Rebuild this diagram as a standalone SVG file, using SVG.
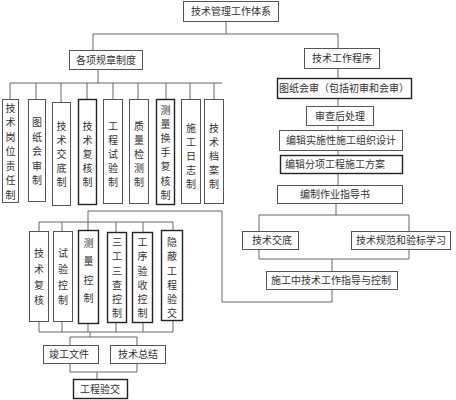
<svg xmlns="http://www.w3.org/2000/svg" width="456" height="400" viewBox="0 0 456 400">
<style>
.b{fill:#fff;stroke:#555;stroke-width:1}
.bt{fill:#fff;stroke:#222;stroke-width:1.4}
.t{font-family:"Noto Sans CJK SC","Noto Sans",sans-serif;font-size:10px;fill:#333;text-anchor:middle}
.c{fill:none;stroke:#666;stroke-width:1}
</style>
<rect width="456" height="400" fill="#fff"/>
<g id="connectors">
<path class="c" d="M226,21V34M93,34H338M93,34V50M338,34V48"/>
<path class="c" d="M98,69V83M10,83H222M10,83V99M36,83V99M61,83V102M87,83V99M113,83V99M138,83V99M166,83V99M190,83V99M214,83V99"/>
<path class="c" d="M338,68V78M338,98V106M338,125V130M338,150V155M338,173V185"/>
<path class="c" d="M336,203V215M259,215H409M259,215V231M409,215V231M259,249V259M409,249V259M259,259H409M332,259V271"/>
<path class="c" d="M332,289V302H222V211H88V230M39,222H173M39,222V231M62,222V231M116,222V232M143,222V232M173,222V230"/>
<path class="c" d="M39,321V332M62,321V332M88,323V332M116,322V332M143,322V332M173,320V332M39,332H173M90,332V337M70,337H137M70,337V345M137,337V345M70,363V372M137,363V372M70,372H137M97,372V379"/>
</g>
<g id="n-top"><rect class="b" x="183.5" y="1.5" width="95" height="20"/><text class="t" x="231" y="15">技术管理工作体系</text></g>
<g id="n-rules"><rect class="b" x="69.5" y="50.5" width="73" height="19"/><text class="t" x="106" y="64">各项规章制度</text></g>
<g id="n-proc"><rect class="b" x="304.5" y="48.5" width="75" height="20"/><text class="t" x="342" y="62">技术工作程序</text></g>
<g id="n-r1"><rect class="b" x="2.5" y="99.5" width="16" height="103"/><text class="t"><tspan x="10.5" y="111.5">技</tspan><tspan x="10.5" y="126">术</tspan><tspan x="10.5" y="140.5">岗</tspan><tspan x="10.5" y="155">位</tspan><tspan x="10.5" y="169.5">责</tspan><tspan x="10.5" y="184">任</tspan><tspan x="10.5" y="198.5">制</tspan></text></g>
<g id="n-r2"><rect class="b" x="28.5" y="99.5" width="17" height="102"/><text class="t"><tspan x="37" y="126">图</tspan><tspan x="37" y="140.5">纸</tspan><tspan x="37" y="155">会</tspan><tspan x="37" y="169.5">审</tspan><tspan x="37" y="184">制</tspan></text></g>
<g id="n-r3"><rect class="b" x="52.5" y="102.5" width="18" height="103"/><text class="t"><tspan x="61.5" y="130">技</tspan><tspan x="61.5" y="144">术</tspan><tspan x="61.5" y="158">交</tspan><tspan x="61.5" y="172">底</tspan><tspan x="61.5" y="186">制</tspan></text></g>
<g id="n-r4"><rect class="bt" x="78.5" y="99.5" width="18" height="105"/><text class="t"><tspan x="87.5" y="130">技</tspan><tspan x="87.5" y="144">术</tspan><tspan x="87.5" y="158">复</tspan><tspan x="87.5" y="172">核</tspan><tspan x="87.5" y="186">制</tspan></text></g>
<g id="n-r5"><rect class="b" x="103.5" y="99.5" width="19" height="104"/><text class="t"><tspan x="113" y="130">工</tspan><tspan x="113" y="144">程</tspan><tspan x="113" y="158">试</tspan><tspan x="113" y="172">验</tspan><tspan x="113" y="186">制</tspan></text></g>
<g id="n-r6"><rect class="b" x="129.5" y="99.5" width="19" height="104"/><text class="t"><tspan x="139" y="130">质</tspan><tspan x="139" y="144">量</tspan><tspan x="139" y="158">检</tspan><tspan x="139" y="172">测</tspan><tspan x="139" y="186">制</tspan></text></g>
<g id="n-r7"><rect class="bt" x="156.5" y="99.5" width="18" height="105"/><text class="t"><tspan x="165.5" y="113.5">测</tspan><tspan x="165.5" y="127.7">量</tspan><tspan x="165.5" y="141.9">换</tspan><tspan x="165.5" y="156.1">手</tspan><tspan x="165.5" y="170.3">复</tspan><tspan x="165.5" y="184.5">核</tspan><tspan x="165.5" y="198.7">制</tspan></text></g>
<g id="n-r8"><rect class="b" x="181.5" y="99.5" width="19" height="104"/><text class="t"><tspan x="191" y="131.5">施</tspan><tspan x="191" y="145.5">工</tspan><tspan x="191" y="159.5">日</tspan><tspan x="191" y="173.5">志</tspan><tspan x="191" y="187.5">制</tspan></text></g>
<g id="n-r9"><rect class="b" x="204.5" y="99.5" width="19" height="104"/><text class="t"><tspan x="214" y="131.5">技</tspan><tspan x="214" y="145.5">术</tspan><tspan x="214" y="159.5">档</tspan><tspan x="214" y="173.5">案</tspan><tspan x="214" y="187.5">制</tspan></text></g>
<g id="n-p1"><rect class="bt" x="277.5" y="78.5" width="134" height="20"/><text class="t" x="344" y="92">图纸会审（包括初审和会审）</text></g>
<g id="n-p2"><rect class="b" x="306.5" y="106.5" width="67" height="19"/><text class="t" x="340" y="120">审查后处理</text></g>
<g id="n-p3"><rect class="b" x="279.5" y="130.5" width="123" height="20"/><text class="t" x="341" y="144">编辑实施性施工组织设计</text></g>
<g id="n-p4"><rect class="bt" x="280.5" y="155.5" width="122" height="18"/><text class="t" x="335" y="168">编辑分项工程施工方案</text></g>
<g id="n-p5"><rect class="b" x="277.5" y="185.5" width="125" height="18"/><text class="t" x="335" y="198">编制作业指导书</text></g>
<g id="n-p6"><rect class="b" x="242.5" y="231.5" width="56" height="18"/><text class="t" x="272" y="244">技术交底</text></g>
<g id="n-p7"><rect class="b" x="351.5" y="231.5" width="99" height="18"/><text class="t" x="401" y="244">技术规范和验标学习</text></g>
<g id="n-p8"><rect class="b" x="266.5" y="271.5" width="131" height="18"/><text class="t" x="331" y="284">施工中技术工作指导与控制</text></g>
<g id="n-c1"><rect class="b" x="29.5" y="231.5" width="19" height="90"/><text class="t"><tspan x="39" y="257">技</tspan><tspan x="39" y="273">术</tspan><tspan x="39" y="288.5">复</tspan><tspan x="39" y="304">核</tspan></text></g>
<g id="n-c2"><rect class="b" x="53.5" y="231.5" width="19" height="90"/><text class="t"><tspan x="63" y="257">试</tspan><tspan x="63" y="273">验</tspan><tspan x="63" y="288.5">控</tspan><tspan x="63" y="304">制</tspan></text></g>
<g id="n-c3"><rect class="bt" x="78.5" y="230.5" width="20" height="93"/><text class="t"><tspan x="88.5" y="247">测</tspan><tspan x="88.5" y="265">量</tspan><tspan x="88.5" y="284">控</tspan><tspan x="88.5" y="302">制</tspan></text></g>
<g id="n-c4"><rect class="bt" x="107.5" y="232.5" width="19" height="90"/><text class="t"><tspan x="117" y="246">三</tspan><tspan x="117" y="260">工</tspan><tspan x="117" y="274.5">三</tspan><tspan x="117" y="289">查</tspan><tspan x="117" y="303">控</tspan><tspan x="117" y="317">制</tspan></text></g>
<g id="n-c5"><rect class="bt" x="132.5" y="232.5" width="20" height="90"/><text class="t"><tspan x="142.5" y="246">工</tspan><tspan x="142.5" y="260">序</tspan><tspan x="142.5" y="274.5">验</tspan><tspan x="142.5" y="289">收</tspan><tspan x="142.5" y="303">控</tspan><tspan x="142.5" y="317">制</tspan></text></g>
<g id="n-c6"><rect class="bt" x="161.5" y="230.5" width="21" height="90"/><text class="t"><tspan x="172" y="246">隐</tspan><tspan x="172" y="260">蔽</tspan><tspan x="172" y="274.5">工</tspan><tspan x="172" y="289">程</tspan><tspan x="172" y="303">验</tspan><tspan x="172" y="317">交</tspan></text></g>
<g id="n-f1"><rect class="b" x="43.5" y="345.5" width="55" height="18"/><text class="t" x="69" y="358">竣工文件</text></g>
<g id="n-f2"><rect class="b" x="110.5" y="345.5" width="55" height="18"/><text class="t" x="138" y="358">技术总结</text></g>
<g id="n-f3"><rect class="bt" x="73.5" y="379.5" width="54" height="19"/><text class="t" x="100" y="393">工程验交</text></g>
</svg>
